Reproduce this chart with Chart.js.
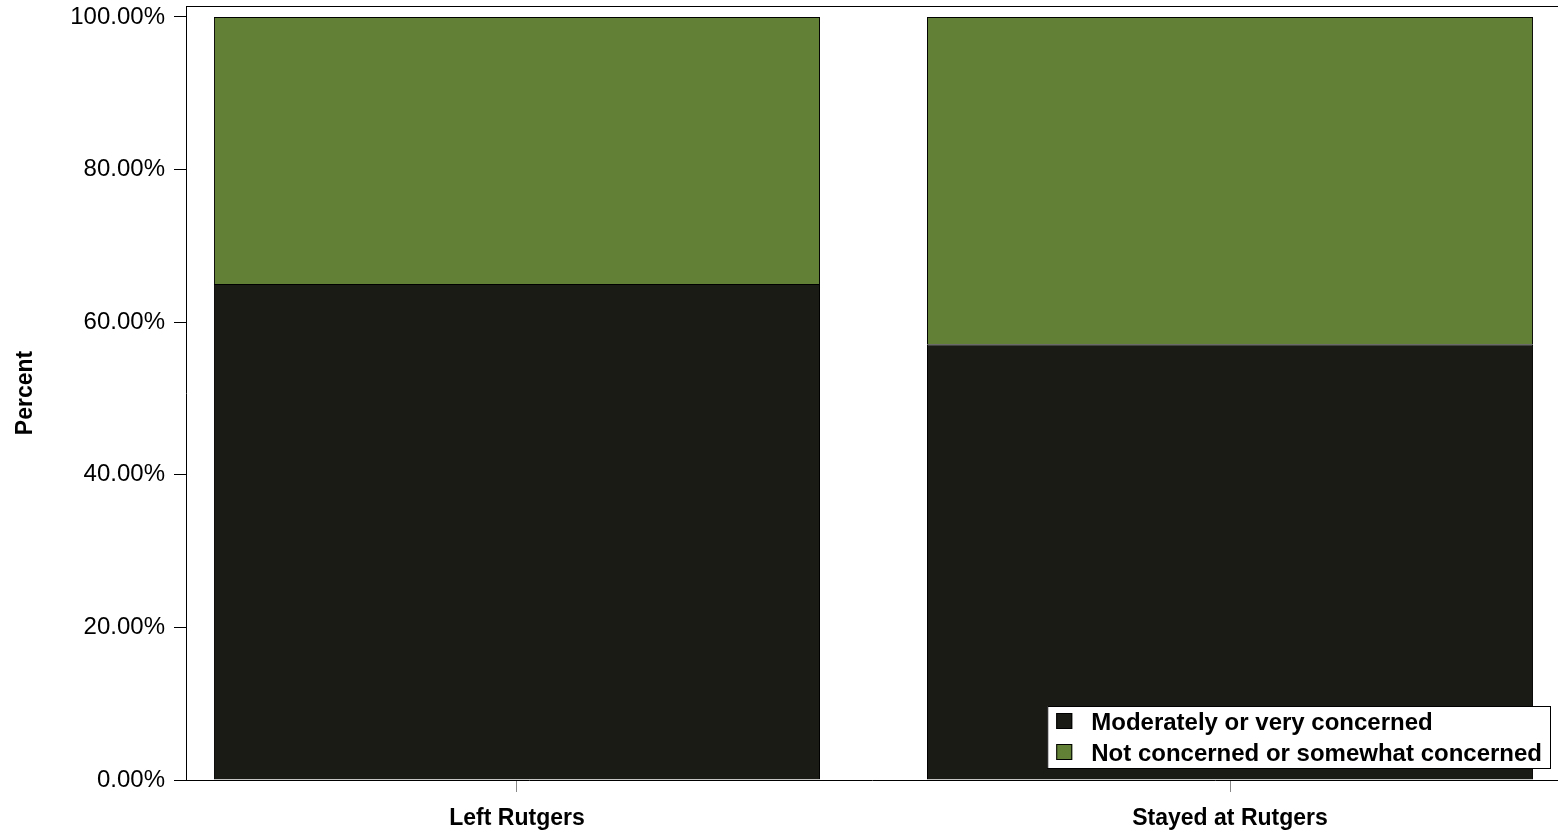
<!DOCTYPE html>
<html>
<head>
<meta charset="utf-8">
<script src="https://cdn.jsdelivr.net/npm/chart.js@4.4.1/dist/chart.umd.min.js"></script>
<style>
  html, body { margin: 0; padding: 0; background: #fff; }
  #wrap { position: relative; width: 1558px; height: 835px; }
</style>
</head>
<body>
<div id="wrap"><canvas id="chart1" width="1558" height="835"></canvas></div>
<script>
const categories = ['Left Rutgers', 'Stayed at Rutgers'];
const seriesNames = ['Moderately or very concerned', 'Not concerned or somewhat concerned'];
const concerned = [65.0, 57.1];
const notConcerned = [35.0, 42.9];
const yTicks = [0, 20, 40, 60, 80, 100];

const darkColor = '#191b14';
const greenColor = '#628136';
const fontFamily = 'Arial, "Liberation Sans", Helvetica, sans-serif';

// legend drawn inside the plot, bottom right
const boxLegend = {
    id: 'boxLegend',
    afterDraw(chart) {
        const ctx = chart.ctx;
        const area = chart.chartArea;
        const items = chart.data.datasets;
        ctx.save();
        ctx.font = 'bold 24px ' + fontFamily;
        let maxW = 0;
        items.forEach(ds => { maxW = Math.max(maxW, ctx.measureText(ds.label).width); });
        const w = 9 + 16 + 19 + maxW + 8;
        const h = 62;
        const x = 1550 - w;
        const y = area.bottom - 12 - h;
        ctx.fillStyle = '#fff';
        ctx.fillRect(x, y, w, h);
        ctx.strokeStyle = '#000';
        ctx.lineWidth = 1;
        ctx.strokeRect(x + 0.5, y + 0.5, w, h);
        items.forEach((ds, i) => {
            const cy = y + 15 + i * 31;
            ctx.fillStyle = ds.backgroundColor;
            ctx.fillRect(x + 9, cy - 8, 16, 16);
            ctx.strokeStyle = '#000';
            ctx.strokeRect(x + 9.5, cy - 7.5, 15, 15);
            ctx.fillStyle = '#000';
            ctx.textBaseline = 'middle';
            ctx.fillText(ds.label, x + 44, cy + 2);
        });
        ctx.restore();
    }
};

// top frame line
const topFrame = {
    id: 'topFrame',
    afterDraw(chart) {
        const ctx = chart.ctx;
        const area = chart.chartArea;
        ctx.save();
        ctx.strokeStyle = '#000';
        ctx.lineWidth = 1;
        ctx.beginPath();
        ctx.moveTo(area.left, area.top + 0.5);
        ctx.lineTo(area.right, area.top + 0.5);
        ctx.stroke();
        ctx.restore();
    }
};

const ctx1 = document.getElementById('chart1').getContext('2d');

const chart1 = new Chart(ctx1, {
    type: 'bar',
    data: {
        datasets: [{
            label: seriesNames[0],
            data: concerned.map((v, i) => ({ x: i, y: v })),
            backgroundColor: darkColor,
            borderColor: '#000',
            borderWidth: 1,
            categoryPercentage: 1,
            barPercentage: 0.85
        }, {
            label: seriesNames[1],
            data: notConcerned.map((v, i) => ({ x: i, y: v })),
            backgroundColor: greenColor,
            borderColor: '#000',
            borderWidth: 1,
            categoryPercentage: 1,
            barPercentage: 0.85
        }]
    },
    options: {
        responsive: false,
        animation: false,
        layout: { padding: { top: 6, left: 0, right: 0, bottom: 0 } },
        plugins: {
            legend: { display: false },
            tooltip: { enabled: false }
        },
        scales: {
            x: {
                type: 'linear',
                stacked: true,
                offset: false,
                min: -0.4642,
                max: 1.46,
                afterBuildTicks: axis => { axis.ticks = categories.map((c, i) => ({ value: i })); },
                afterFit: axis => {
                    axis.height = 55;
                    axis.paddingLeft = 0;
                    axis.paddingRight = 0;
                },
                ticks: {
                    callback: v => categories[v],
                    color: '#000',
                    padding: 13,
                    autoSkip: false,
                    maxRotation: 0,
                    font: { family: fontFamily, size: 23, weight: 'bold' }
                },
                grid: {
                    offset: false,
                    drawOnChartArea: false,
                    drawTicks: true,
                    tickLength: 12,
                    color: '#888'
                },
                border: { display: true, color: '#000', width: 1 }
            },
            y: {
                stacked: true,
                min: 0,
                max: 101.44,
                afterBuildTicks: axis => { axis.ticks = yTicks.map(v => ({ value: v })); },
                afterFit: axis => {
                    axis.width = 186;
                    axis.paddingTop = 0;
                    axis.paddingBottom = 0;
                },
                ticks: {
                    callback: v => v.toFixed(2) + '%',
                    color: '#000',
                    padding: 9,
                    font: { family: fontFamily, size: 24 }
                },
                grid: {
                    drawOnChartArea: false,
                    drawTicks: true,
                    tickLength: 12,
                    color: '#000'
                },
                border: { display: true, color: '#000', width: 1 },
                title: {
                    display: true,
                    text: 'Percent',
                    color: '#000',
                    padding: { top: 12, bottom: 0 },
                    font: { family: fontFamily, size: 23, weight: 'bold' }
                }
            }
        }
    },
    plugins: [boxLegend, topFrame]
});
</script>
</body>
</html>
